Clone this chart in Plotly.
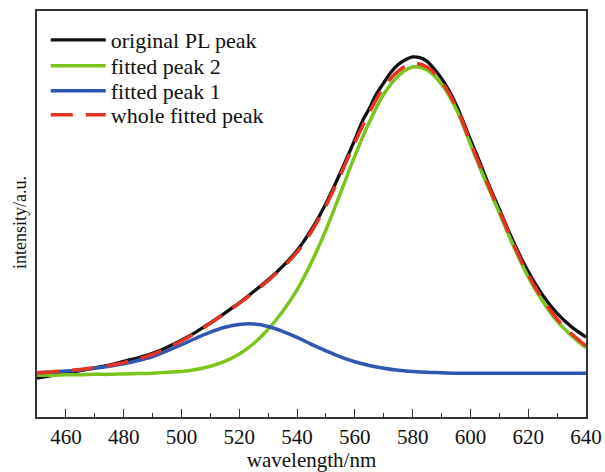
import plotly.graph_objects as go

wavelength = [450, 455, 460, 465, 470, 475, 480, 485, 490, 495, 500, 505, 510, 515, 520,
              525, 530, 535, 540, 545, 550, 555, 560, 565, 570, 575, 580, 585, 590, 595,
              600, 605, 610, 615, 620, 625, 630, 635, 640]

# measured spectrum is sampled more densely around the (slightly noisy) maximum
pl_wavelength = [450, 455, 460, 465, 470, 475, 480, 485, 490, 495, 500, 505, 510, 515, 520,
                 525, 530, 535, 540, 545, 550, 555, 560, 562.5, 565, 567.5, 570, 572.5, 575,
                 577.5, 580, 582.5, 585, 587.5, 590, 592.5, 595, 597.5, 600, 602.5, 605,
                 610, 615, 620, 625, 630, 635, 640]

original_pl = [0.096, 0.102, 0.108, 0.114, 0.121, 0.128, 0.137, 0.146, 0.157, 0.172, 0.189,
               0.209, 0.232, 0.256, 0.281, 0.309, 0.338, 0.371, 0.410, 0.462, 0.526, 0.602,
               0.683, 0.727, 0.760, 0.796, 0.823, 0.849, 0.868, 0.880, 0.887, 0.885, 0.876,
               0.857, 0.834, 0.805, 0.770, 0.728, 0.683, 0.641, 0.595,
               0.512, 0.430, 0.358, 0.300, 0.255, 0.222, 0.197]

fitted_peak2 = [0.103, 0.103, 0.104, 0.104, 0.105, 0.105, 0.106, 0.107, 0.108, 0.110, 0.112,
                0.117, 0.125, 0.137, 0.155, 0.181, 0.216, 0.260, 0.313, 0.381, 0.461, 0.551,
                0.643, 0.726, 0.795, 0.840, 0.862, 0.855, 0.820, 0.760, 0.672, 0.585, 0.503,
                0.420, 0.345, 0.285, 0.236, 0.200, 0.170]

fitted_peak1 = [0.109, 0.111, 0.113, 0.116, 0.120, 0.125, 0.131, 0.139, 0.149, 0.163, 0.178,
                0.194, 0.209, 0.221, 0.228, 0.229, 0.223, 0.211, 0.196, 0.179, 0.163, 0.148,
                0.136, 0.127, 0.120, 0.115, 0.112, 0.110, 0.109, 0.108, 0.108, 0.108, 0.108,
                0.108, 0.108, 0.108, 0.108, 0.108, 0.108]

whole_fitted = [0.109, 0.111, 0.114, 0.117, 0.122, 0.127, 0.134, 0.143, 0.154, 0.170, 0.187,
                0.208, 0.231, 0.255, 0.280, 0.307, 0.336, 0.368, 0.406, 0.457, 0.521, 0.596,
                0.676, 0.750, 0.812, 0.852, 0.871, 0.862, 0.826, 0.765, 0.677, 0.590, 0.508,
                0.425, 0.350, 0.290, 0.241, 0.205, 0.175]

x_ticks = [460, 480, 500, 520, 540, 560, 580, 600, 620, 640]

FONT = "Liberation Serif, serif"
AX = "#333333"

series = [
    ("original PL peak", pl_wavelength, original_pl, dict(color="#111111", width=3.3, shape="spline"), "legend"),
    ("fitted peak 2", wavelength, fitted_peak2, dict(color="#7AC51C", width=3.5, shape="spline"), "legend2"),
    ("fitted peak 1", wavelength, fitted_peak1, dict(color="#2E56B2", width=3.5, shape="spline"), "legend3"),
    ("whole fitted peak", wavelength, whole_fitted, dict(color="#E63323", width=3.5, shape="spline", dash="22px,13px"), "legend4"),
]

fig = go.Figure()
for name, xs, vals, line, leg in series:
    fig.add_trace(go.Scatter(x=xs, y=vals, mode="lines", name=name, line=line, legend=leg))

plot_left, plot_right = 37, 586
plot_top, plot_bottom = 11, 417

# legend rows (one legend per row so the row spacing matches the reference)
row_px = [40, 66, 91, 115]
leg_common = dict(x=0.016, xanchor="left", yanchor="middle", bgcolor="rgba(0,0,0,0)",
                  font=dict(family=FONT, size=22, color="#111111"), itemwidth=55)
legends = {}
for i, key in enumerate(["legend", "legend2", "legend3", "legend4"]):
    yp = (plot_bottom - row_px[i]) / (plot_bottom - plot_top)
    legends[key] = dict(leg_common, y=yp)

fig.update_layout(
    width=605, height=472,
    margin=dict(l=plot_left, r=605 - plot_right, t=plot_top, b=472 - plot_bottom, autoexpand=False),
    paper_bgcolor="white", plot_bgcolor="white",
    font=dict(family=FONT, size=21, color="#111111"),
    showlegend=True,
    xaxis=dict(range=[450, 640], tickvals=x_ticks, ticktext=[str(v) for v in x_ticks],
               ticks="inside", ticklen=8, tickwidth=1.2, tickcolor=AX,
               minor=dict(ticks="inside", ticklen=4, dtick=10, tick0=450, tickcolor=AX, tickwidth=1.2),
               showline=True, linecolor=AX, linewidth=1.5, mirror=True,
               showgrid=False, zeroline=False, automargin=False,
               tickfont=dict(family=FONT, size=21, color="#111111"),
               title=dict(text="wavelength/nm", font=dict(family=FONT, size=21, color="#111111"), standoff=2)),
    yaxis=dict(range=[0, 1], showticklabels=False, ticks="",
               showline=True, linecolor=AX, linewidth=1.5, mirror=True,
               showgrid=False, zeroline=False, automargin=False),
    annotations=[dict(text="intensity/a.u.", textangle=-90, showarrow=False,
                      xref="paper", yref="paper",
                      x=(20 - plot_left) / (plot_right - plot_left),
                      y=(plot_bottom - 223) / (plot_bottom - plot_top),
                      xanchor="center", yanchor="middle",
                      font=dict(family=FONT, size=18, color="#111111"))],
    **legends,
)

fig.write_html("out.html", config={"displayModeBar": False},
               post_script="document.body.style.margin='0px';")
